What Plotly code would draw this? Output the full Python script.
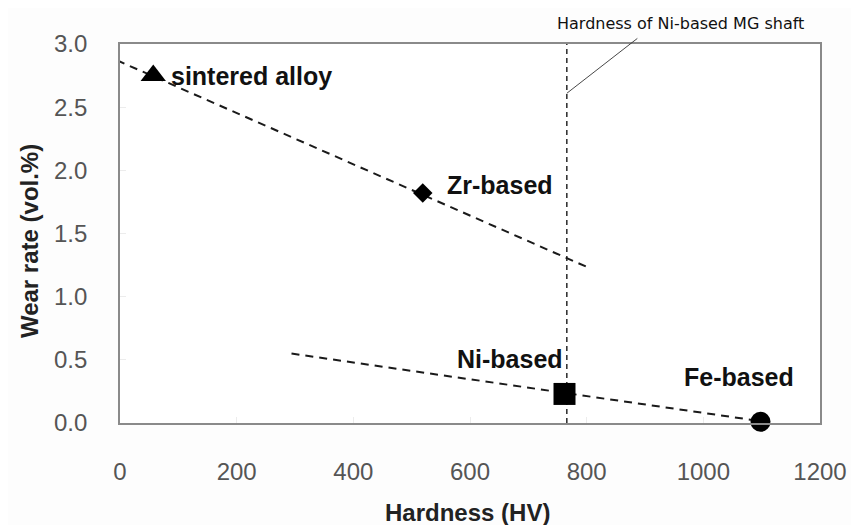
import plotly.graph_objects as go

# Data
alloys = ["sintered alloy", "Zr-based", "Ni-based", "Fe-based"]
hardness = [57, 519, 762, 1098]
wear_rate = [2.75, 1.82, 0.23, 0.01]
symbols = ["triangle-up", "diamond", "square", "circle"]

trend1_x = [-5, 803]
trend1_y = [2.87, 1.23]
trend2_x = [294, 1090]
trend2_y = [0.55, 0.02]

shaft_hardness = 766
shaft_note = "Hardness of Ni-based MG shaft"

x_ticks = [0, 200, 400, 600, 800, 1000, 1200]
y_ticks = [0.0, 0.5, 1.0, 1.5, 2.0, 2.5, 3.0]

FONT = "Liberation Sans, Arial, Helvetica"

fig = go.Figure()

for tx, ty in [(trend1_x, trend1_y), (trend2_x, trend2_y)]:
    fig.add_trace(go.Scatter(x=tx, y=ty, mode="lines",
                             line=dict(color="#1a1a1a", width=2, dash="8px,6px"),
                             showlegend=False, cliponaxis=False, hoverinfo="skip"))
fig.add_trace(go.Scatter(x=[shaft_hardness, shaft_hardness], y=[0, 3.0], mode="lines",
                         line=dict(color="#1a1a1a", width=1.4, dash="5px,4px"),
                         showlegend=False, hoverinfo="skip"))

fig.add_trace(go.Scatter(x=hardness, y=wear_rate, mode="markers",
                         marker=dict(symbol=symbols, size=[22, 15, 22, 20], color="black",
                                     opacity=1, line=dict(width=0)),
                         showlegend=False, cliponaxis=False))

label_font = dict(family=FONT, size=25, color="#111")
offsets = [(16, 0, "left"), (22, 8, "left"), (0, 35, "right"), (-22, 45, "center")]
for name, x, y, (dx, dy, anc) in zip(alloys, hardness, wear_rate, offsets):
    fig.add_annotation(x=x, y=y, text="<b>%s</b>" % name, showarrow=False,
                       xshift=dx, yshift=dy, xanchor=anc, yanchor="middle",
                       font=label_font)

# leader line for the shaft hardness note
fig.add_annotation(x=shaft_hardness, y=2.61, text="", showarrow=True, arrowhead=0,
                   arrowwidth=0.9, arrowcolor="#333", ax=72, ay=-56, standoff=0)
fig.add_annotation(xref="paper", yref="paper", x=0.8, y=1.053, text=shaft_note,
                   showarrow=False, xanchor="center", yanchor="middle",
                   font=dict(family="DejaVu Sans", size=16, color="#111"))

# axis titles
fig.add_annotation(xref="paper", yref="paper", x=0.4965, y=-0.235,
                   text="<b>Hardness (HV)</b>", showarrow=False,
                   xanchor="center", yanchor="middle",
                   font=dict(family=FONT, size=24, color="#222"))
fig.add_annotation(xref="paper", yref="paper", x=-0.130, y=0.48,
                   text="<b>Wear rate (vol.%)</b>", showarrow=False, textangle=-90,
                   xanchor="center", yanchor="middle",
                   font=dict(family=FONT, size=24, color="#222"))

fig.update_xaxes(range=[0, 1200], tickvals=x_ticks, ticktext=[str(v) for v in x_ticks],
                 showgrid=False, zeroline=False, showline=True, mirror=True,
                 linecolor="#8a8a8a", linewidth=1.6, ticks="inside", ticklen=6,
                 tickcolor="#ececec", ticklabelstandoff=26,
                 tickfont=dict(family=FONT, size=24, color="#555"))
fig.update_yaxes(range=[0, 3.0], tickvals=y_ticks, ticktext=["%.1f" % v for v in y_ticks],
                 showgrid=False, zeroline=False, showline=True, mirror=True,
                 linecolor="#8a8a8a", linewidth=1.6, ticks="inside", ticklen=6,
                 tickcolor="#ececec", ticklabelstandoff=26,
                 tickfont=dict(family=FONT, size=24, color="#555"))

fig.update_layout(width=851, height=517, plot_bgcolor="white", paper_bgcolor="#fdfdfd",
                  margin=dict(l=112, r=32, t=36, b=102))

fig.write_html("out.html")
